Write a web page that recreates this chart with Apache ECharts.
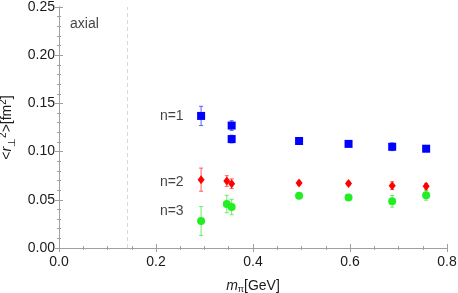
<!DOCTYPE html>
<html><head><meta charset="utf-8">
<script src="https://cdn.jsdelivr.net/npm/echarts@6/dist/echarts.min.js"></script>
<style>html,body{margin:0;padding:0;background:#fff}#c{width:458px;height:293px}</style>
</head><body><div id="c"></div>
<script>
// m_pi [GeV]
const mpi = [0.293, 0.346, 0.356, 0.495, 0.597, 0.687, 0.757];
const n1Points = [[0.293,0.137,0.010],[0.356,0.127,0.005],[0.356,0.113,0.004],[0.495,0.111,0.002],[0.597,0.108,0.002],[0.687,0.105,0.004],[0.757,0.103,0.003]];
const n2Points = [[0.293,0.0709,0.012],[0.346,0.0695,0.0055],[0.356,0.0667,0.005],[0.495,0.0674,0.002],[0.597,0.0670,0.002],[0.687,0.0647,0.004],[0.757,0.0640,0.003]];
const n3Points = [[0.293,0.028,0.015],[0.346,0.0456,0.009],[0.356,0.0425,0.008],[0.495,0.0543,0.003],[0.597,0.0525,0.002],[0.687,0.0484,0.006],[0.757,0.0546,0.005]];
const xTicks = [0.0, 0.2, 0.4, 0.6, 0.8];
const yTicks = [0.00, 0.05, 0.10, 0.15, 0.20, 0.25];
const physicalPionMass = 0.138;
const seriesLabels = [["n=1",0.2325,0.137],["n=2",0.2325,0.0685],["n=3",0.2325,0.038]];
const panelLabel = ["axial",0.0525,0.232];

const chart = echarts.init(document.getElementById('c'));
const axisGray = '#a0a0a0';
const labelColor = '#1a1a1a';
const font = 'Liberation Sans, Arial, sans-serif';
const fs = 14;

function errSeries(data, color) {
  return {
    type: 'custom',
    data: data.map(d => [d[0], d[1] - d[2], d[1] + d[2]]),
    renderItem: function (params, api) {
      const x = api.value(0);
      const lo = api.coord([x, api.value(1)]);
      const hi = api.coord([x, api.value(2)]);
      const cap = 2;
      const st = { stroke: color, lineWidth: 1 };
      return { type: 'group', children: [
        { type: 'line', shape: { x1: lo[0], y1: lo[1], x2: hi[0], y2: hi[1] }, style: st },
        { type: 'line', shape: { x1: lo[0]-cap, y1: lo[1], x2: lo[0]+cap, y2: lo[1] }, style: st },
        { type: 'line', shape: { x1: hi[0]-cap, y1: hi[1], x2: hi[0]+cap, y2: hi[1] }, style: st }
      ]};
    },
    z: 2, silent: true
  };
}
function pts(data, symbol, size, color) {
  return { type: 'scatter', data: data.map(d => [d[0], d[1]]), symbol: symbol, symbolSize: size,
    itemStyle: { color: color, opacity: 1 }, z: 3, silent: true };
}
const axisLine = { show: true, lineStyle: { color: axisGray, width: 1 } };
const axisTick = { show: true, inside: true, length: 4, lineStyle: { color: axisGray } };

chart.setOption({
  animation: false,
  grid: { left: 59, right: 11, top: 7, bottom: 45, show: false, containLabel: false, outerBoundsMode: 'none' },
  xAxis: [
    { type: 'value', min: 0, max: 0.8, interval: 0.2, position: 'bottom',
      axisLine: axisLine, axisTick: axisTick, splitLine: { show: false },
      minorTick: { show: true, splitNumber: 4, length: 2, lineStyle: { color: axisGray } },
      axisLabel: { color: labelColor, fontSize: fs, fontFamily: font, margin: 7,
        formatter: v => v.toFixed(1) },
      name: '{i|m}{s|π}{n|[GeV]}', nameLocation: 'middle', nameGap: 30,
      nameTextStyle: { rich: {
        i: { fontStyle: 'italic', fontSize: fs, fontFamily: font, color: labelColor },
        s: { fontSize: 9, fontFamily: font, color: labelColor, padding: [7,0,0,0] },
        n: { fontSize: fs, fontFamily: font, color: labelColor } } } },
    { type: 'value', min: 0, max: 0.8, interval: 0.2, position: 'top', axisLabel: { show: false },
      axisLine: axisLine, axisTick: axisTick, splitLine: { show: false },
      minorTick: { show: true, splitNumber: 4, length: 2, lineStyle: { color: axisGray } } }
  ],
  yAxis: [
    { type: 'value', min: 0, max: 0.25, interval: 0.05, position: 'left',
      axisLabel: { color: labelColor, fontSize: fs, fontFamily: font, margin: 4,
        formatter: v => v.toFixed(2) },
      axisLine: axisLine, axisTick: axisTick, splitLine: { show: false },
      minorTick: { show: true, splitNumber: 5, length: 2, lineStyle: { color: axisGray } },
      name: '<{i|r}{s|⊥}{p|2}>[fm{p|2}]', nameLocation: 'middle', nameGap: 40, nameRotate: 90,
      nameTextStyle: { fontSize: fs, fontFamily: font, color: labelColor, rich: {
        i: { fontStyle: 'italic', fontSize: fs, fontFamily: font, color: labelColor },
        s: { fontSize: 10, fontFamily: font, color: labelColor, padding: [9,0,0,0] },
        p: { fontSize: 10, fontFamily: font, color: labelColor, padding: [0,0,9,0] } } } },
    { type: 'value', min: 0, max: 0.25, interval: 0.05, position: 'right', axisLabel: { show: false },
      axisLine: axisLine, axisTick: axisTick, splitLine: { show: false },
      minorTick: { show: true, splitNumber: 5, length: 2, lineStyle: { color: axisGray } } }
  ],
  series: [
    { type: 'line', data: [], markLine: { silent: true, symbol: 'none', label: { show: false },
        lineStyle: { color: '#d8d8d8', type: [4, 3], width: 1 },
        data: [{ xAxis: physicalPionMass }] } },
    errSeries(n1Points, '#5a5aff'),
    errSeries(n2Points, '#ff5a5a'),
    errSeries(n3Points, '#66ee66'),
    pts(n1Points, 'rect', 8, '#0000ff'),
    pts(n2Points, 'diamond', [7, 9], '#ff0000'),
    pts(n3Points, 'circle', 8, '#22ee22'),
    { type: 'scatter', symbolSize: 0, silent: true,
      data: seriesLabels.map(l => ({ value: [l[1], l[2]], name: l[0] })).concat([{ value: [panelLabel[1], panelLabel[2]], name: panelLabel[0] }]),
      label: { show: true, position: 'inside', formatter: p => p.name, fontSize: fs, fontFamily: font, color: '#111' } }
  ]
});
</script></body></html>
